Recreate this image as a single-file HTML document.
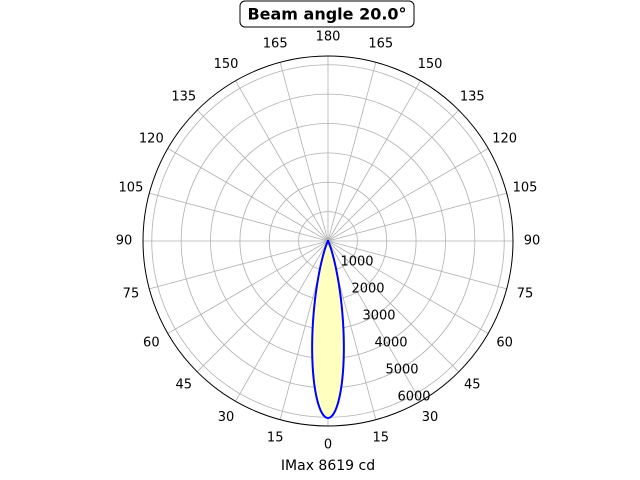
<!DOCTYPE html>
<html><head><meta charset="utf-8"><style>
html,body{margin:0;padding:0;background:#fff;}
svg{display:block;font-family:"DejaVu Sans","Liberation Sans",sans-serif;}
</style></head><body>
<svg id="s" width="640" height="480" viewBox="0 0 640 480" xmlns="http://www.w3.org/2000/svg">
<g id="grid" stroke="#b0b0b0" stroke-width="0.8" fill="none"></g>
<path id="lobe" fill="#ffffc0" stroke="#0000ff" stroke-width="2"/>
<circle cx="328" cy="241" r="185" fill="none" stroke="#000" stroke-width="1"/>
<g id="lbl" font-size="13" fill="#000" text-anchor="middle" dominant-baseline="central"></g>
<g font-size="13" fill="#000" text-anchor="middle" dominant-baseline="central">
<text x="357" y="262">1000</text><text x="368" y="289">2000</text><text x="379" y="316">3000</text>
<text x="391" y="343">4000</text><text x="402" y="370">5000</text><text x="414" y="397">6000</text>
</g>
<rect x="240" y="1" width="174" height="26" rx="5" fill="#fff" stroke="#000" stroke-width="1"/>
<text x="327" y="14" font-size="16" font-weight="bold" text-anchor="middle" dominant-baseline="central">Beam angle 20.0°</text>
<text x="328" y="466" font-size="14" text-anchor="middle" dominant-baseline="central">IMax 8619 cd</text>
</svg>
<script>
var cx=328,cy=241,R=185,ns="http://www.w3.org/2000/svg";
var g=document.getElementById('grid'),l=document.getElementById('lbl');
for(var i=1;i<=6;i++){var c=document.createElementNS(ns,'circle');c.setAttribute('cx',cx);c.setAttribute('cy',cy);c.setAttribute('r',i*29.37);g.appendChild(c);}
for(var a=0;a<360;a+=15){var t=a*Math.PI/180;var ln=document.createElementNS(ns,'line');
ln.setAttribute('x1',cx);ln.setAttribute('y1',cy);ln.setAttribute('x2',cx+R*Math.sin(t));ln.setAttribute('y2',cy+R*Math.cos(t));g.appendChild(ln);
var tx=document.createElementNS(ns,'text');tx.setAttribute('x',cx+204*Math.sin(t));tx.setAttribute('y',cy+204*Math.cos(t));
tx.textContent=a<=180?a:360-a;l.appendChild(tx);}
var d='';for(var th=-40;th<=40;th+=0.5){var r=177*Math.pow(0.5,Math.pow(th/10,2));var t=th*Math.PI/180;
d+=(d?'L':'M')+(cx+r*Math.sin(t)).toFixed(2)+' '+(cy+r*Math.cos(t)).toFixed(2);}
document.getElementById('lobe').setAttribute('d',d+'Z');
</script>
</body></html>
